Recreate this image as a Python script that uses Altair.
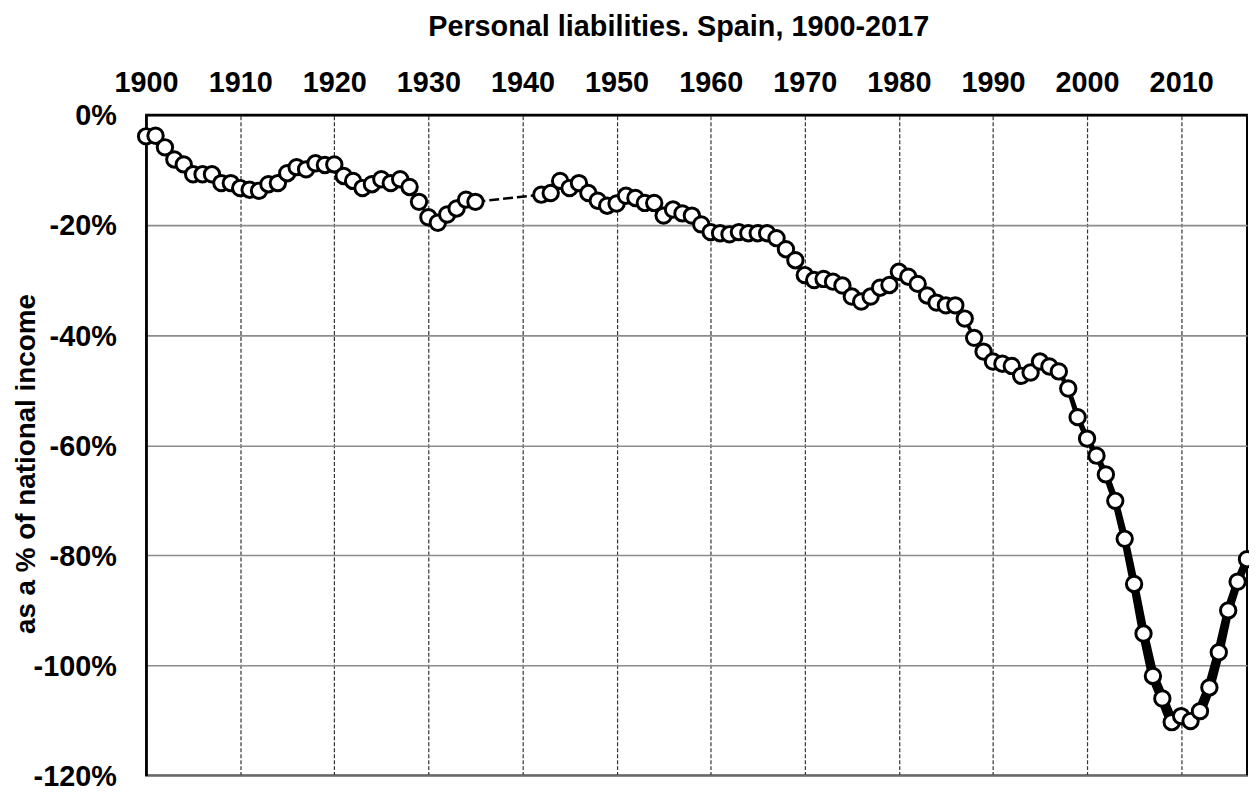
import altair as alt
import pandas as pd

# ---- data ----
years = list(range(1900, 1936)) + list(range(1942, 2018))
values = [
    -3.9, -3.8, -5.9, -8.1, -9.0, -10.8, -10.8, -10.8, -12.4, -12.4,
    -13.3, -13.6, -13.8, -12.6, -12.4, -10.6, -9.5, -9.9, -8.8, -9.1,
    -9.0, -11.1, -12.0, -13.3, -12.6, -11.7, -12.4, -11.7, -13.1, -15.8,
    -18.6, -19.6, -18.1, -17.0, -15.4, -15.8,
    -14.5, -14.2, -12.0, -13.3, -12.4, -14.2, -15.6, -16.5,
    -16.1, -14.7, -15.1, -16.0, -16.0, -18.3, -17.2, -17.9, -18.3, -19.9,
    -21.3, -21.5, -21.7, -21.3, -21.5, -21.5, -21.5, -22.4, -24.4, -26.4,
    -29.1, -30.0, -29.8, -30.3, -31.0, -33.0, -33.9, -33.0, -31.4, -30.9,
    -28.5, -29.4, -30.7, -32.8, -34.1, -34.6, -34.6, -37.0, -40.5, -43.0,
    -44.8, -45.2, -45.6, -47.4, -46.8, -44.8, -45.7, -46.6, -49.7, -54.9,
    -58.8, -61.9, -65.3, -70.1, -77.0, -85.2, -94.2, -101.9, -106.0, -110.3,
    -109.2, -110.1, -108.3, -104.0, -97.6, -90.0, -84.8, -80.7,
]
x_ticks = [1900, 1910, 1920, 1930, 1940, 1950, 1960, 1970, 1980, 1990, 2000, 2010]
y_ticks = [0, -20, -40, -60, -80, -100, -120]
gap_years = [1935, 1942]
chart_title = "Personal liabilities. Spain, 1900-2017"
y_title = "as a % of national income"

df = pd.DataFrame({"year": years, "value": values})

FONT = "Liberation Sans"

x_enc = alt.X(
    "year:Q",
    scale=alt.Scale(domain=[1900, 2017], nice=False, zero=False),
    axis=alt.Axis(
        orient="top", values=x_ticks, format="d", title=None, ticks=False,
        labelPadding=23, labelBaseline="alphabetic", labelFontSize=29,
        labelFontWeight="bold", labelFont=FONT, labelColor="black",
        labelFlush=False, labelOverlap=False,
        grid=True, gridDash=[4, 2], gridColor="#333333", gridWidth=1.2,
        domainColor="black", domainWidth=2.5,
    ),
)
y_enc = alt.Y(
    "value:Q",
    scale=alt.Scale(domain=[-120, 0], nice=False, zero=False),
    axis=alt.Axis(
        values=y_ticks, labelExpr="datum.value + '%'", ticks=False,
        labelPadding=30, labelFontSize=29, labelFontWeight="bold",
        labelFont=FONT, labelColor="black", labelBaseline="middle",
        labelOffset=1, labelFlush=False, labelOverlap=False,
        grid=True, gridColor="#8c8c8c", gridWidth=1.6,
        domainColor="black", domainWidth=2.5,
        title=y_title, titleFont=FONT, titleFontSize=28, titleFontWeight="bold",
        titleColor="black", titleAngle=270, titleAlign="center",
        titleBaseline="alphabetic", titleX=-112, titleY=351,
    ),
)

base = alt.Chart(df)

trail = base.transform_calculate(
    period="datum.year < 1940 ? 'a' : 'b'",
    mag="abs(datum.value)",
).mark_trail(color="black").encode(
    x=x_enc,
    y=y_enc,
    detail="period:N",
    size=alt.Size("mag:Q", scale=alt.Scale(domain=[0, 120], range=[0, 11.5]), legend=None),
)

link = base.transform_filter(
    alt.FieldOneOfPredicate(field="year", oneOf=gap_years)
).mark_line(color="black", strokeWidth=2.5, strokeDash=[10, 4]).encode(
    x=x_enc, y=y_enc
)

points = base.mark_circle(
    color="white", stroke="black", strokeWidth=3, size=240, opacity=1
).encode(x=x_enc, y=y_enc)

chart = alt.layer(trail, link, points).properties(
    width=1108,
    height=665,
    title=alt.TitleParams(
        chart_title, font=FONT, fontSize=29, fontWeight="bold", color="black",
        anchor="middle", offset=27, dx=-18,
    ),
    autosize=alt.AutoSizeParams(type="none"),
    padding={"left": 139, "top": 105, "right": 2, "bottom": 14},
    background="white",
).configure_view(stroke="black", strokeWidth=2)

chart.save("out.html", embed_options={"renderer": "svg", "actions": False})
